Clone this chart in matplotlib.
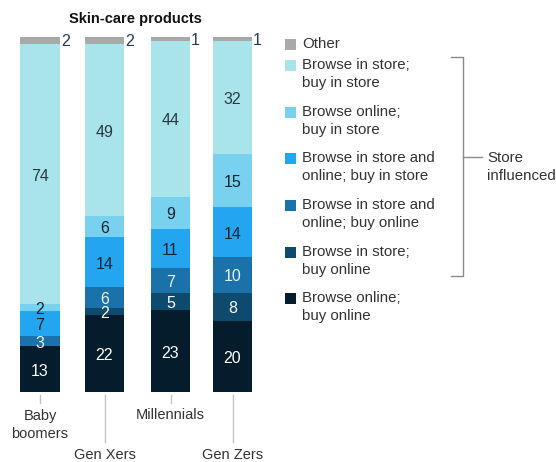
import matplotlib
matplotlib.use("Agg")
import matplotlib.pyplot as plt
import numpy as np

plt.rcParams['font.family'] = ['Liberation Sans', 'DejaVu Sans']

# data (share of respondents, %)
categories = ["Baby\nboomers", "Gen Xers", "Millennials", "Gen Zers"]
other    = [2, 2, 1, 1]
bis_bis  = [74, 49, 44, 32]   # browse in store; buy in store
bo_bis   = [2, 6, 9, 15]      # browse online; buy in store
biso_bis = [7, 14, 11, 14]    # browse in store and online; buy in store
biso_bo  = [3, 6, 7, 10]      # browse in store and online; buy online
bis_bo   = [0, 2, 5, 8]       # browse in store; buy online
bo_bo    = [13, 22, 23, 20]   # browse online; buy online

legend_labels = ["Other",
                 "Browse in store;\nbuy in store",
                 "Browse online;\nbuy in store",
                 "Browse in store and\nonline; buy in store",
                 "Browse in store and\nonline; buy online",
                 "Browse in store;\nbuy online",
                 "Browse online;\nbuy online"]

# layout (pixel coords of a 556x462 canvas)
W, H = 556, 462
xs = [40, 104.5, 170.5, 232.5]
bar_w = 39.5
label_y = [425, 455, 415, 455]
tick_end = [403, 442, 403, 442]

# bottom-to-top stacking
stack = [bo_bo, bis_bo, biso_bo, biso_bis, bo_bis, bis_bis]
colors = ["#051c2c", "#0d4a6d", "#1b72aa", "#23a6ef", "#77d1ef", "#aae4eb"]
txt_col = ["white", "white", "#e8f4fa", "#0e2433", "#0e2433", "#2a3a44"]
other_col = "#a9a9a9"

fig = plt.figure(figsize=(W / 100, H / 100), dpi=100)
ax = fig.add_axes([0, 70 / H, 1, 355 / H])
ax.set_xlim(0, W)
ax.set_ylim(0, 100)
ax.axis("off")

totals = np.array(other) + sum(np.array(s) for s in stack)
scale = 100.0 / totals
bottom = np.zeros(len(categories))
for vals, c, tc in zip(stack, colors, txt_col):
    h = np.array(vals) * scale
    ax.bar(xs, h, bar_w, bottom=bottom, color=c, linewidth=0)
    for x, b, hh, v in zip(xs, bottom, h, vals):
        if v > 0:
            ax.text(x, b + hh / 2 - 0.6, str(v), ha="center", va="center",
                    fontsize=11.5, color=tc)
    bottom += h
h = np.array(other) * scale
ax.bar(xs, h, bar_w, bottom=bottom, color=other_col, linewidth=0)
for x, b, hh, v in zip(xs, bottom, h, other):
    ax.text(x + bar_w / 2 + 1, b + hh / 2 - 0.4, str(v), ha="left", va="center",
            fontsize=11.5, color="#2a3a44")

# overlay in pixel coords for annotations
ov = fig.add_axes([0, 0, 1, 1], zorder=-1)
ov.set_xlim(0, W)
ov.set_ylim(H, 0)
ov.axis("off")

ov.text(135, 19, "Skin-care products", ha="center", va="center",
        fontsize=10.5, fontweight="bold", color="#111111")

for x, ly, te, cat in zip(xs, label_y, tick_end, categories):
    ov.plot([x, x], [395, te], color="#c4c4c4", lw=1)
    ov.text(x, ly, cat, ha="center", va="center", fontsize=10.5,
            color="#333333", linespacing=1.45)

# legend
leg_colors = [other_col] + colors[::-1]
leg_y = [44, 74, 121, 167, 214, 261, 307]
for c, y, lab in zip(leg_colors, leg_y, legend_labels):
    n = lab.count("\n")
    ov.add_patch(plt.Rectangle((285, y - (9 if n else 0) - 5.5), 11, 11,
                               color=c, lw=0))
    ov.text(302, y, lab, ha="left", va="center", fontsize=10.8,
            color="#333333", linespacing=1.45)

# bracket
bc = "#8a8a8a"
ov.plot([451, 463, 463, 451], [57, 57, 276, 276], color=bc, lw=1)
ov.plot([463, 482], [157, 157], color=bc, lw=1)
ov.text(487, 167, "Store\ninfluenced", ha="left", va="center", fontsize=10.8,
        color="#333333", linespacing=1.45)

fig.savefig("out.png", dpi=100)
